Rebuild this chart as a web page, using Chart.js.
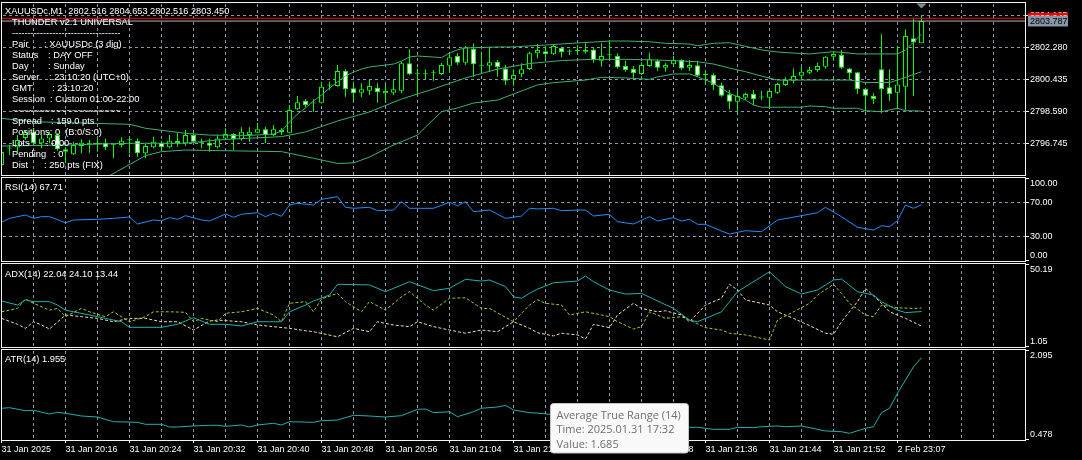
<!DOCTYPE html>
<html>
<head>
<meta charset="utf-8">
<title>XAUUSDc,M1</title>
<script src="https://cdn.jsdelivr.net/npm/chart.js@4.4.1/dist/chart.umd.min.js"></script>
<style>
  html, body { margin: 0; padding: 0; background: #000; width: 1082px; height: 460px; overflow: hidden; }
  canvas { position: absolute; left: 0; }
</style>
</head>
<body>
<canvas id="price" width="1082" height="177" style="top:0px"></canvas>
<canvas id="rsi" width="1082" height="88" style="top:176px"></canvas>
<canvas id="adx" width="1082" height="87" style="top:262px"></canvas>
<canvas id="atr" width="1082" height="112" style="top:348px"></canvas>
<script>
// ---- data (bar index 0 = 31 Jan 20:08) ----
const timeLabels = ['31 Jan 2025', '31 Jan 20:16', '31 Jan 20:24', '31 Jan 20:32', '31 Jan 20:40',
  '31 Jan 20:48', '31 Jan 20:56', '31 Jan 21:04', '31 Jan 21:12', '31 Jan 21:20', '31 Jan 21:28',
  '31 Jan 21:36', '31 Jan 21:44', '31 Jan 21:52', '2 Feb 23:07'];

const opens = [
  2795.52, 2796.50, 2796.52, 2797.07, 2797.43, 2796.77, 2797.05, 2797.24, 2796.42, 2796.14,
  2796.61, 2796.72, 2796.73, 2796.80, 2796.65, 2796.67, 2796.95, 2796.92, 2796.20, 2796.54,
  2796.80, 2796.54, 2796.92, 2796.77, 2797.24, 2796.80, 2796.80, 2796.54, 2797.05, 2797.30,
  2797.00, 2797.24, 2797.38, 2797.57, 2797.24, 2797.53, 2797.38, 2798.72, 2799.21, 2799.07,
  2799.10, 2800.08, 2800.06, 2800.94, 2799.93, 2799.67, 2799.79, 2799.96, 2799.64, 2799.67,
  2799.79, 2801.36, 2800.77, 2800.73, 2800.79, 2800.75, 2801.22, 2801.78, 2801.40, 2802.20,
  2801.22, 2801.22, 2801.45, 2801.07, 2800.44, 2800.73, 2801.03, 2801.94, 2802.05, 2801.88,
  2802.24, 2802.03, 2802.07, 2802.03, 2802.16, 2801.51, 2801.84, 2801.78, 2801.21, 2801.03,
  2800.75, 2801.21, 2801.51, 2801.11, 2801.30, 2801.55, 2801.11, 2801.25, 2800.69, 2800.69,
  2800.10, 2799.58, 2799.16, 2799.39, 2799.60, 2799.40, 2799.39, 2799.67, 2800.12, 2800.36,
  2800.65, 2800.82, 2800.98, 2801.17, 2801.74, 2801.84, 2801.07, 2800.85, 2799.89, 2799.48,
  2801.02, 2799.98, 2799.67, 2800.02, 2802.80, 2802.52];
const highs = [
  2796.50, 2796.67, 2797.24, 2797.53, 2797.63, 2797.24, 2797.43, 2797.34, 2796.54, 2796.86,
  2797.00, 2796.96, 2797.05, 2797.05, 2796.73, 2797.11, 2797.11, 2797.05, 2796.73, 2797.15,
  2796.92, 2797.24, 2797.34, 2797.53, 2797.34, 2797.05, 2797.05, 2797.24, 2797.63, 2797.34,
  2797.69, 2797.69, 2797.95, 2797.72, 2797.82, 2797.63, 2798.97, 2799.48, 2799.30, 2799.30,
  2800.30, 2800.30, 2801.26, 2801.02, 2800.30, 2800.21, 2800.40, 2800.21, 2800.12, 2800.40,
  2801.45, 2802.17, 2801.07, 2801.02, 2800.98, 2801.40, 2801.94, 2801.94, 2802.35, 2802.51,
  2802.03, 2802.31, 2801.55, 2801.26, 2801.02, 2801.36, 2802.03, 2802.47, 2802.36, 2802.41,
  2802.31, 2802.17, 2802.41, 2802.51, 2802.22, 2802.51, 2802.70, 2801.94, 2801.51, 2801.21,
  2801.40, 2801.97, 2801.59, 2801.40, 2801.78, 2801.59, 2801.55, 2801.51, 2800.98, 2800.79,
  2800.25, 2799.83, 2799.79, 2799.67, 2799.83, 2799.79, 2799.79, 2800.25, 2800.56, 2801.07,
  2801.17, 2801.17, 2801.40, 2801.78, 2802.03, 2802.13, 2801.09, 2800.88, 2799.93, 2799.64,
  2803.04, 2801.02, 2802.35, 2803.31, 2803.94, 2804.13];
const lows = [
  2795.35, 2796.10, 2796.29, 2796.96, 2796.67, 2796.48, 2796.77, 2796.34, 2795.62, 2796.10,
  2796.20, 2796.23, 2796.29, 2796.38, 2795.91, 2796.54, 2796.20, 2796.00, 2795.91, 2796.48,
  2796.34, 2796.48, 2796.57, 2796.61, 2796.77, 2796.48, 2796.29, 2796.48, 2796.96, 2796.38,
  2796.92, 2796.86, 2797.34, 2796.77, 2797.19, 2797.24, 2797.34, 2798.68, 2798.83, 2798.58,
  2799.06, 2799.83, 2800.02, 2799.44, 2799.16, 2799.41, 2799.54, 2799.10, 2799.16, 2799.54,
  2799.64, 2800.69, 2799.60, 2800.44, 2800.36, 2800.69, 2800.88, 2801.26, 2801.26, 2800.59,
  2800.82, 2800.88, 2800.59, 2800.12, 2800.06, 2800.56, 2800.98, 2801.65, 2801.59, 2801.84,
  2801.71, 2801.84, 2801.84, 2801.93, 2801.40, 2801.17, 2801.65, 2801.07, 2800.88, 2800.50,
  2800.69, 2801.17, 2800.92, 2800.88, 2801.17, 2800.98, 2800.92, 2800.59, 2800.12, 2799.83,
  2799.44, 2798.72, 2798.49, 2799.25, 2798.97, 2799.25, 2798.83, 2799.60, 2800.06, 2800.21,
  2800.40, 2800.75, 2800.88, 2801.07, 2801.55, 2801.03, 2800.40, 2799.60, 2798.58, 2799.03,
  2798.49, 2799.21, 2798.72, 2798.68, 2799.48, 2802.51];
const closes = [
  2796.27, 2796.47, 2796.96, 2797.43, 2796.77, 2797.05, 2797.29, 2796.42, 2796.29, 2796.67,
  2796.80, 2796.74, 2796.75, 2796.54, 2796.66, 2796.92, 2796.96, 2796.20, 2796.61, 2796.86,
  2796.54, 2796.92, 2796.77, 2797.24, 2796.86, 2796.81, 2796.63, 2797.05, 2797.30, 2797.01,
  2797.43, 2797.43, 2797.57, 2797.24, 2797.57, 2797.40, 2798.68, 2799.12, 2798.97, 2799.06,
  2800.02, 2800.09, 2800.92, 2799.87, 2799.64, 2799.87, 2800.06, 2799.70, 2799.77, 2799.87,
  2801.36, 2800.73, 2800.76, 2800.74, 2800.80, 2801.26, 2801.71, 2801.40, 2802.28, 2801.30,
  2801.23, 2801.42, 2801.13, 2800.36, 2800.69, 2801.02, 2801.94, 2802.13, 2801.88, 2802.36,
  2801.99, 2802.02, 2802.08, 2802.14, 2801.55, 2801.78, 2801.83, 2801.13, 2800.98, 2800.79,
  2801.26, 2801.59, 2801.11, 2801.26, 2801.55, 2801.07, 2801.26, 2800.65, 2800.70, 2800.10,
  2799.50, 2799.16, 2799.48, 2799.60, 2799.31, 2799.41, 2799.77, 2800.17, 2800.40, 2800.63,
  2800.88, 2800.98, 2801.21, 2801.74, 2801.90, 2801.11, 2800.79, 2799.87, 2799.50, 2799.31,
  2799.87, 2799.60, 2800.15, 2802.93, 2802.55, 2803.79];

// Bollinger bands, [bar, price]
const bbUpper = [[0, 2798.20], [4, 2798.01], [11, 2797.92], [16, 2797.86], [18, 2797.63], [23, 2797.34],
  [26, 2797.24], [31, 2797.22], [34, 2797.30], [35, 2797.47], [36, 2797.99], [37, 2798.45], [38, 2798.80],
  [39, 2799.20], [40, 2799.54], [41, 2799.94], [42, 2800.29], [43, 2800.63], [44, 2800.86], [45, 2801.03],
  [46, 2801.15], [48, 2801.26], [49, 2801.32], [50, 2801.49], [51, 2801.72], [52, 2801.78], [54, 2801.72],
  [55, 2801.69], [56, 2801.95], [57, 2802.13], [58, 2802.24], [62, 2802.30], [64, 2802.30], [66, 2802.36],
  [68, 2802.41], [72, 2802.53], [74, 2802.58], [76, 2802.64], [78, 2802.64], [81, 2802.60], [83, 2802.51],
  [86, 2802.47], [87, 2802.37], [89, 2802.51], [91, 2802.54], [95, 2802.13], [97, 2802.01], [99, 2801.95],
  [101, 2801.90], [104, 2802.03], [107, 2801.90], [112, 2801.90], [113, 2802.13], [114, 2802.58], [115, 2803.04]];
const bbMiddle = [[0, 2796.61], [8, 2796.67], [16, 2796.77], [23, 2796.77], [27, 2796.96], [31, 2797.06],
  [35, 2797.15], [38, 2797.42], [42, 2798.05], [46, 2798.57], [50, 2799.31], [54, 2799.89], [58, 2800.52],
  [62, 2801.03], [66, 2801.35], [70, 2801.52], [74, 2801.59], [78, 2801.59], [82, 2801.55], [87, 2801.45],
  [89, 2801.32], [91, 2801.09], [93, 2800.88], [95, 2800.63], [97, 2800.40], [102, 2800.40], [106, 2800.40],
  [108, 2800.26], [111, 2800.26], [112, 2800.40], [113, 2800.55], [115, 2800.88]];
const bbLower = [[13, 2794.78], [18, 2796.06], [20, 2796.29], [23, 2796.38], [35, 2796.29], [39, 2795.91],
  [42, 2795.61], [44, 2795.64], [46, 2795.98], [49, 2796.67], [52, 2797.24], [53, 2797.70], [55, 2798.58],
  [57, 2798.80], [59, 2799.08], [62, 2799.25], [67, 2800.12], [69, 2800.25], [73, 2800.40], [75, 2800.56],
  [78, 2800.52], [81, 2800.44], [82, 2800.58], [84, 2800.75], [86, 2800.75], [87, 2800.59], [89, 2800.21],
  [91, 2799.64], [93, 2799.25], [94, 2798.97], [95, 2798.84], [100, 2798.84], [101, 2798.91], [103, 2798.87],
  [104, 2798.78], [107, 2798.78], [108, 2798.64], [110, 2798.58], [111, 2798.68], [112, 2798.78],
  [113, 2798.64], [115, 2798.62]];

const askPrice = 2803.946;
const bidPrice = 2803.787;
const priceTicks = [2796.745, 2798.590, 2800.435, 2802.280, 2804.125];

const rsiValues = [[0, 46.6], [1, 51.4], [3, 55.4], [4, 51.4], [5, 53.4], [6, 53.4], [8, 46.1], [9, 49.4],
  [12, 50.2], [14, 51.4], [16, 53.0], [17, 44.6], [19, 49.4], [20, 48.6], [21, 52.2], [22, 50.2], [23, 54.6],
  [25, 49.4], [26, 48.2], [28, 56.6], [29, 52.7], [30, 56.3], [32, 58.2], [33, 53.4], [34, 57.5], [35, 53.9],
  [36, 67.5], [37, 69.5], [39, 67.5], [40, 74.3], [42, 77.5], [43, 64.7], [44, 63.5], [46, 64.7], [47, 60.6],
  [49, 61.4], [50, 71.4], [51, 63.5], [54, 63.5], [56, 70.7], [57, 66.6], [58, 71.4], [59, 59.4], [61, 61.4],
  [63, 51.4], [65, 54.2], [66, 63.5], [67, 62.8], [69, 63.5], [70, 60.6], [72, 61.4], [73, 61.4], [74, 54.2],
  [76, 56.3], [77, 47.3], [79, 44.6], [81, 53.4], [82, 48.2], [84, 52.2], [85, 48.2], [86, 50.2], [87, 44.2],
  [88, 44.2], [90, 36.1], [91, 32.5], [93, 36.5], [95, 35.3], [97, 49.4], [100, 54.6], [102, 58.2],
  [103, 64.7], [105, 53.4], [107, 40.6], [109, 37.3], [110, 42.5], [111, 41.3], [112, 48.6], [113, 67.5],
  [114, 63.5], [115, 67.71]];
const rsiTicks = [0, 30, 70, 100];
const rsiLevels = [30, 70];

const adxMain = [[0, 28.3], [2, 25.9], [3, 28.9], [4, 27.9], [6, 27.9], [7, 25.9], [8, 22.9], [9, 21.9],
  [11, 20.0], [13, 18.0], [15, 16.0], [16, 12.7], [20, 12.7], [22, 14.5], [24, 18.4], [26, 14.5], [28, 14.5],
  [30, 13.5], [32, 16.0], [35, 16.0], [36, 21.9], [38, 25.9], [39, 28.3], [41, 31.8], [42, 38.2], [46, 37.8],
  [48, 33.8], [51, 39.7], [54, 34.4], [56, 35.8], [58, 41.1], [60, 40.1], [61, 40.7], [63, 36.8], [64, 30.8],
  [65, 29.9], [66, 32.8], [67, 35.3], [69, 39.1], [72, 40.1], [73, 43.1], [74, 39.7], [76, 34.8], [78, 32.4],
  [80, 32.8], [82, 28.3], [84, 23.9], [86, 17.0], [87, 16.0], [90, 21.9], [92, 33.8], [96, 45.6], [98, 36.8],
  [100, 32.4], [102, 34.8], [104, 40.7], [105, 41.3], [107, 33.8], [109, 31.8], [110, 27.9], [112, 22.9],
  [113, 21.4], [115, 22.04]];
const adxPlusDI = [[0, 21.9], [2, 23.9], [3, 29.5], [4, 26.9], [6, 22.9], [7, 23.9], [8, 19.0], [10, 23.9],
  [11, 21.9], [13, 19.0], [14, 21.9], [16, 16.0], [18, 19.0], [19, 21.9], [21, 21.9], [23, 21.6], [24, 16.0],
  [25, 18.0], [27, 16.0], [28, 21.0], [30, 21.9], [32, 23.9], [34, 20.0], [35, 16.0], [36, 26.9], [38, 27.9],
  [39, 21.9], [40, 29.5], [42, 32.8], [43, 27.9], [45, 21.9], [46, 27.9], [48, 22.9], [50, 30.8], [51, 33.8],
  [53, 25.9], [54, 22.9], [56, 29.9], [58, 30.2], [60, 23.9], [61, 23.9], [64, 16.0], [66, 25.9], [67, 29.0],
  [68, 26.9], [70, 25.9], [71, 20.0], [73, 21.9], [75, 20.0], [76, 19.0], [77, 16.0], [79, 11.7], [80, 13.1],
  [81, 21.9], [83, 18.0], [85, 19.0], [86, 17.0], [88, 12.5], [90, 11.1], [91, 9.2], [93, 8.2], [96, 5.2],
  [97, 17.0], [99, 21.9], [101, 26.9], [102, 31.8], [104, 38.2], [105, 32.8], [106, 26.9], [108, 20.0],
  [109, 19.0], [110, 25.9], [112, 24.3], [114, 23.9], [115, 24.10]];
const adxMinusDI = [[0, 18.0], [2, 14.5], [3, 12.1], [4, 16.0], [5, 14.1], [6, 11.7], [8, 20.0], [10, 19.0],
  [12, 18.0], [14, 16.0], [16, 18.0], [18, 18.0], [20, 16.0], [22, 16.0], [24, 11.1], [26, 16.4], [27, 17.0],
  [30, 16.0], [32, 14.1], [34, 13.1], [36, 12.1], [38, 10.7], [39, 10.1], [42, 7.1], [44, 12.1], [46, 10.1],
  [47, 16.0], [49, 14.1], [51, 13.1], [52, 16.0], [54, 13.1], [56, 11.1], [58, 9.2], [60, 11.1], [62, 10.1],
  [64, 16.0], [66, 12.1], [67, 9.5], [69, 7.6], [70, 9.2], [72, 8.2], [73, 5.8], [74, 14.5], [76, 12.5],
  [77, 20.0], [79, 26.9], [80, 23.9], [82, 21.9], [83, 22.5], [85, 20.0], [86, 16.0], [88, 25.9], [90, 29.9],
  [91, 38.2], [92, 34.8], [93, 28.9], [96, 25.9], [97, 21.9], [99, 18.0], [101, 13.7], [103, 9.2], [104, 8.6],
  [105, 16.0], [107, 27.9], [108, 35.8], [110, 26.9], [111, 21.9], [113, 18.0], [115, 13.44]];
const adxTicks = [1.05, 50.19];

const atrValues = [[0, 1.048], [1, 1.058], [3, 1.004], [4, 1.012], [6, 0.945], [7, 0.976], [8, 0.958],
  [10, 0.909], [12, 0.891], [14, 0.807], [17, 0.796], [18, 0.760], [20, 0.760], [21, 0.712], [22, 0.712],
  [24, 0.730], [26, 0.742], [27, 0.742], [28, 0.724], [30, 0.748], [31, 0.712], [32, 0.748], [34, 0.778],
  [35, 0.748], [36, 0.807], [39, 0.796], [40, 0.825], [42, 0.837], [44, 0.922], [46, 0.909], [48, 0.891],
  [50, 0.915], [52, 1.030], [53, 1.035], [54, 0.969], [56, 0.986], [57, 0.897], [59, 0.986], [60, 1.048],
  [62, 1.071], [63, 1.101], [64, 1.017], [66, 0.969], [67, 0.960], [70, 0.92], [74, 0.85], [78, 0.80],
  [82, 0.76], [86, 0.706], [87, 0.706], [89, 0.670], [91, 0.670], [92, 0.706], [94, 0.700], [95, 0.717],
  [97, 0.730], [98, 0.717], [100, 0.730], [102, 0.670], [103, 0.640], [105, 0.627], [106, 0.598],
  [108, 0.688], [109, 0.717], [110, 0.969], [111, 1.048], [112, 1.317], [114, 1.795], [115, 1.955]];
const atrTicks = [0.478, 2.095];

const infoLabels = ['Pair', 'Status', 'Day', 'Server', 'GMT', 'Session', '', 'Spread', 'Positions: 0  (B:0/S:0)', 'Lots', 'Pending', 'Dist'];
const infoValues = [': XAUUSDc (3 dig)', ': DAY OFF', ': Sunday', ': 23:10:20 (UTC+0)', ': 23:10:20', ': Custom 01:00-22:00', '', ': 159.0 pts', '', ': 0.00', ': 0', ': 250 pts (FIX)'];
const infoColonX = [44, 48, 48, 49, 52, 50, 0, 51, 0, 46, 53, 44];

// ---- layout / style ----
const FONT = 'Liberation Sans';
const GRID = '#8796a8';
const LIME = '#00ff00';
const X_MIN = 0.0625, X_MAX = 127.9375;   // 8 px per bar
const gridBars = [];
for (let i = 0; i < 128; i += 4) gridBars.push(i);

const pts = arr => arr.map(p => ({x: p[0], y: p[1]}));

function xScale(showLabels) {
  return {
    type: 'linear', min: X_MIN, max: X_MAX, offset: false,
    grid: { display: false, offset: false, drawTicks: showLabels, tickLength: 3 },
    border: { display: false },
    ticks: {
      display: showLabels, autoSkip: false, maxRotation: 0, minRotation: 0, align: 'start', padding: 1,
      color: '#ffffff', font: { family: FONT, size: 9 },
      callback: v => (v % 8 === 0 && timeLabels[v / 8]) ? timeLabels[v / 8] : ''
    },
    afterBuildTicks: s => { s.ticks = gridBars.map(v => ({value: v})); },
    afterFit: s => { s.height = showLabels ? 20 : 0; s.paddingLeft = 0; s.paddingRight = 0; }
  };
}

function yScale(min, max, tickVals, labelFn) {
  return {
    type: 'linear', position: 'right', min: min, max: max, beginAtZero: false,
    grid: { display: false, drawTicks: true, tickLength: 4 },
    border: { display: false },
    ticks: { autoSkip: false, padding: 1, color: '#ffffff', font: { family: FONT, size: 9, lineHeight: 1.2 }, callback: labelFn },
    afterBuildTicks: s => { s.ticks = tickVals.map(v => ({value: v})); },
    afterFit: s => { s.width = 57; s.paddingTop = 0; s.paddingBottom = 0; }
  };
}

// dotted MT4-style grid and small white tick marks, positioned with the chart's own scales
const mtGrid = {
  id: 'mtGrid',
  beforeDatasetsDraw(chart) {
    const ctx = chart.ctx;
    const a = chart.chartArea;
    const x = chart.scales.x, y = chart.scales.y;
    const opts = chart.config.options.mtGridLevels || {};
    const L = Math.round(a.left), R = Math.round(a.right), T = Math.round(a.top), B = Math.round(a.bottom);
    ctx.save();
    ctx.fillStyle = GRID;
    gridBars.forEach(v => {
      const px = Math.floor(x.getPixelForValue(v));
      if (px < L || px >= R) return;
      for (let yy = T + 1; yy < B; yy += 6) ctx.fillRect(px, yy, 1, Math.min(3, B - yy));
    });
    (opts.levels || []).forEach(v => {
      const py = Math.floor(y.getPixelForValue(v));
      for (let xx = L + 1; xx < R; xx += 6) ctx.fillRect(xx, py, Math.min(3, R - xx), 1);
    });
    ctx.fillStyle = '#ffffff';
    y.ticks.forEach(t => {
      const py = Math.min(Math.max(Math.floor(y.getPixelForValue(t.value)), T), B - 1);
      ctx.fillRect(R, py, 4, 1);
    });
    if (opts.timeTicks) {
      timeLabels.forEach((l, k) => {
        const px = Math.floor(x.getPixelForValue(8 * k));
        ctx.fillRect(Math.max(px, L - 1), B, 1, 3);
      });
    }
    ctx.restore();
  }
};

function text(ctx, str, x, y, size, color, family) {
  ctx.font = size + 'px "' + (family || FONT) + '"';
  ctx.fillStyle = color || '#ffffff';
  ctx.textAlign = 'left';
  ctx.textBaseline = 'alphabetic';
  ctx.fillText(str, x, y);
}

const paneBorder = {
  id: 'paneBorder',
  afterDraw(chart) {
    const {ctx, chartArea: a} = chart;
    ctx.save();
    ctx.strokeStyle = '#f2f2f2';
    ctx.lineWidth = 1;
    ctx.strokeRect(a.left - 0.5, a.top - 0.5, a.right - a.left + 1, a.bottom - a.top + 1);
    ctx.restore();
  }
};

function paneTitle(str, baseline) {
  return {
    id: 'paneTitle',
    afterDraw(chart) {
      chart.ctx.save();
      text(chart.ctx, str, 5, baseline, 9.3);
      chart.ctx.restore();
    }
  };
}

function baseOptions(padTop, padBottom, gridOpts) {
  return {
    responsive: false, animation: false, events: [],
    mtGridLevels: gridOpts,
    layout: { padding: { left: 2, right: 0, top: padTop, bottom: padBottom } },
    plugins: { legend: { display: false }, tooltip: { enabled: false } }
  };
}

// ---- price pane ----
const priceOverlay = {
  id: 'priceOverlay',
  afterDraw(chart) {
    const ctx = chart.ctx;
    ctx.save();
    const ya = chart.scales.y.getPixelForValue(askPrice);
    ctx.fillStyle = '#ff0000';
    ctx.fillRect(1028, ya - 5.5, 40, 11);
    text(ctx, askPrice.toFixed(3), 1030, ya + 3.2, 9, '#ffffff');

    const yb = chart.scales.y.getPixelForValue(bidPrice);
    ctx.fillStyle = '#8796a6';
    ctx.fillRect(1028, yb - 5.3, 40, 10.7);
    text(ctx, bidPrice.toFixed(3), 1030, yb + 3.3, 9, '#000000');

    const xs = chart.scales.x.getPixelForValue(closes.length - 1);
    ctx.fillStyle = '#7f8c99';
    ctx.beginPath();
    ctx.moveTo(xs - 5, 3.5); ctx.lineTo(xs + 5, 3.5); ctx.lineTo(xs, 8.5);
    ctx.closePath(); ctx.fill();

    text(ctx, 'XAUUSDc,M1  2802.516 2804.653 2802.516 2803.450', 5, 13.5, 9.2);
    text(ctx, 'THUNDER v2.1 UNIVERSAL', 12, 25.3, 9.3);
    text(ctx, '-----------------------------------', 12, 35.5, 9.3);
    for (let k = 0; k < infoLabels.length; k++) {
      const base = 46.5 + 11 * k;
      if (k === 6) { text(ctx, '~~~~~~~~~~~~~~~~~~~~', 12, base + 1, 9.3); continue; }
      text(ctx, infoLabels[k], 12, base, 9.3);
      if (infoValues[k]) text(ctx, infoValues[k], infoColonX[k], base, 9.3);
    }
    ctx.restore();
  }
};

new Chart(document.getElementById('price'), {
  type: 'line',
  data: {
    datasets: [
      { type: 'line', data: [{x: X_MIN, y: askPrice}, {x: X_MAX, y: askPrice}], borderColor: '#ff0000', borderWidth: 1, pointRadius: 0 },
      { type: 'line', data: [{x: X_MIN, y: bidPrice}, {x: X_MAX, y: bidPrice}], borderColor: '#aab4be', borderWidth: 1, pointRadius: 0 },
      { type: 'line', data: pts(bbUpper), borderColor: '#3cb371', borderWidth: 1, pointRadius: 0, tension: 0 },
      { type: 'line', data: pts(bbMiddle), borderColor: '#3cb371', borderWidth: 1, pointRadius: 0, tension: 0 },
      { type: 'line', data: pts(bbLower), borderColor: '#3cb371', borderWidth: 1, pointRadius: 0, tension: 0 },
      {
        type: 'bar', grouped: false, barThickness: 5, minBarLength: 1, borderSkipped: false, inflateAmount: 0,
        data: opens.map((o, i) => ({x: i, y: [o, closes[i]]})),
        backgroundColor: opens.map((o, i) => closes[i] >= o ? '#000000' : '#ffffff'),
        borderColor: LIME, borderWidth: 1
      },
      {
        type: 'bar', grouped: false, barThickness: 1, borderSkipped: false, inflateAmount: 0,
        data: lows.map((l, i) => ({x: i, y: [l, highs[i]]})),
        backgroundColor: LIME, borderWidth: 0
      }
    ]
  },
  options: Object.assign(baseOptions(3, 2, { levels: priceTicks }), {
    scales: {
      x: xScale(false),
      y: yScale(2794.948, 2804.824, priceTicks, v => v.toFixed(3))
    }
  }),
  plugins: [mtGrid, paneBorder, priceOverlay]
});

// ---- RSI pane ----
new Chart(document.getElementById('rsi'), {
  type: 'line',
  data: { datasets: [
    { data: pts(rsiValues), borderColor: '#1e90ff', borderWidth: 1, pointRadius: 0, tension: 0 }
  ] },
  options: Object.assign(baseOptions(2, 3, { levels: rsiLevels }), {
    scales: {
      x: xScale(false),
      y: yScale(0, 100, rsiTicks,
        v => v === 100 ? ['', '100.00'] : (v === 0 ? ['0.00', ''] : v.toFixed(2)))
    }
  }),
  plugins: [mtGrid, paneBorder, paneTitle('RSI(14) 67.71', 14)]
});

// ---- ADX pane ----
new Chart(document.getElementById('adx'), {
  type: 'line',
  data: { datasets: [
    { data: pts(adxMain), borderColor: '#20b2aa', borderWidth: 1, pointRadius: 0, tension: 0 },
    { data: pts(adxPlusDI), borderColor: '#9acd32', borderWidth: 1, borderDash: [3, 2], pointRadius: 0, tension: 0 },
    { data: pts(adxMinusDI), borderColor: '#f5deb3', borderWidth: 1, borderDash: [3, 2], pointRadius: 0, tension: 0 }
  ] },
  options: Object.assign(baseOptions(2, 2, { levels: [] }), {
    scales: {
      x: xScale(false),
      y: yScale(1.05, 50.19, adxTicks,
        v => v === adxTicks[1] ? ['', v.toFixed(2)] : [v.toFixed(2), ''])
    }
  }),
  plugins: [mtGrid, paneBorder, paneTitle('ADX(14) 22.04 24.10 13.44', 15)]
});

// ---- ATR pane + time axis ----
const atrTooltip = {
  id: 'atrTooltip',
  afterDraw(chart) {
    const ctx = chart.ctx;
    const top = 348;
    const x = 550.5, y = 403.5 - top, w = 138, h = 49.5, r = 3;
    ctx.save();
    ctx.beginPath();
    ctx.moveTo(x + r, y); ctx.lineTo(x + w - r, y); ctx.quadraticCurveTo(x + w, y, x + w, y + r);
    ctx.lineTo(x + w, y + h - r); ctx.quadraticCurveTo(x + w, y + h, x + w - r, y + h);
    ctx.lineTo(x + r, y + h); ctx.quadraticCurveTo(x, y + h, x, y + h - r);
    ctx.lineTo(x, y + r); ctx.quadraticCurveTo(x, y, x + r, y);
    ctx.closePath();
    ctx.fillStyle = '#f9f9f9'; ctx.fill();
    ctx.strokeStyle = '#c4c4c4'; ctx.lineWidth = 1; ctx.stroke();
    text(ctx, 'Average True Range (14)', 556.5, 418.5 - top, 11, '#6e6e6e', 'Open Sans');
    text(ctx, 'Time: 2025.01.31 17:32', 556.5, 433 - top, 11, '#6e6e6e', 'Open Sans');
    text(ctx, 'Value: 1.685', 556.5, 447.5 - top, 11, '#6e6e6e', 'Open Sans');
    ctx.restore();
  }
};

new Chart(document.getElementById('atr'), {
  type: 'line',
  data: { datasets: [
    { data: pts(atrValues), borderColor: '#20b2aa', borderWidth: 1, pointRadius: 0, tension: 0 }
  ] },
  options: Object.assign(baseOptions(2, 0, { levels: [], timeTicks: true }), {
    scales: {
      x: xScale(true),
      y: yScale(0.478, 2.095, atrTicks,
        v => v === atrTicks[1] ? ['', v.toFixed(3)] : [v.toFixed(3), ''])
    }
  }),
  plugins: [mtGrid, paneBorder, paneTitle('ATR(14) 1.955', 14), atrTooltip]
});
</script>
</body>
</html>
